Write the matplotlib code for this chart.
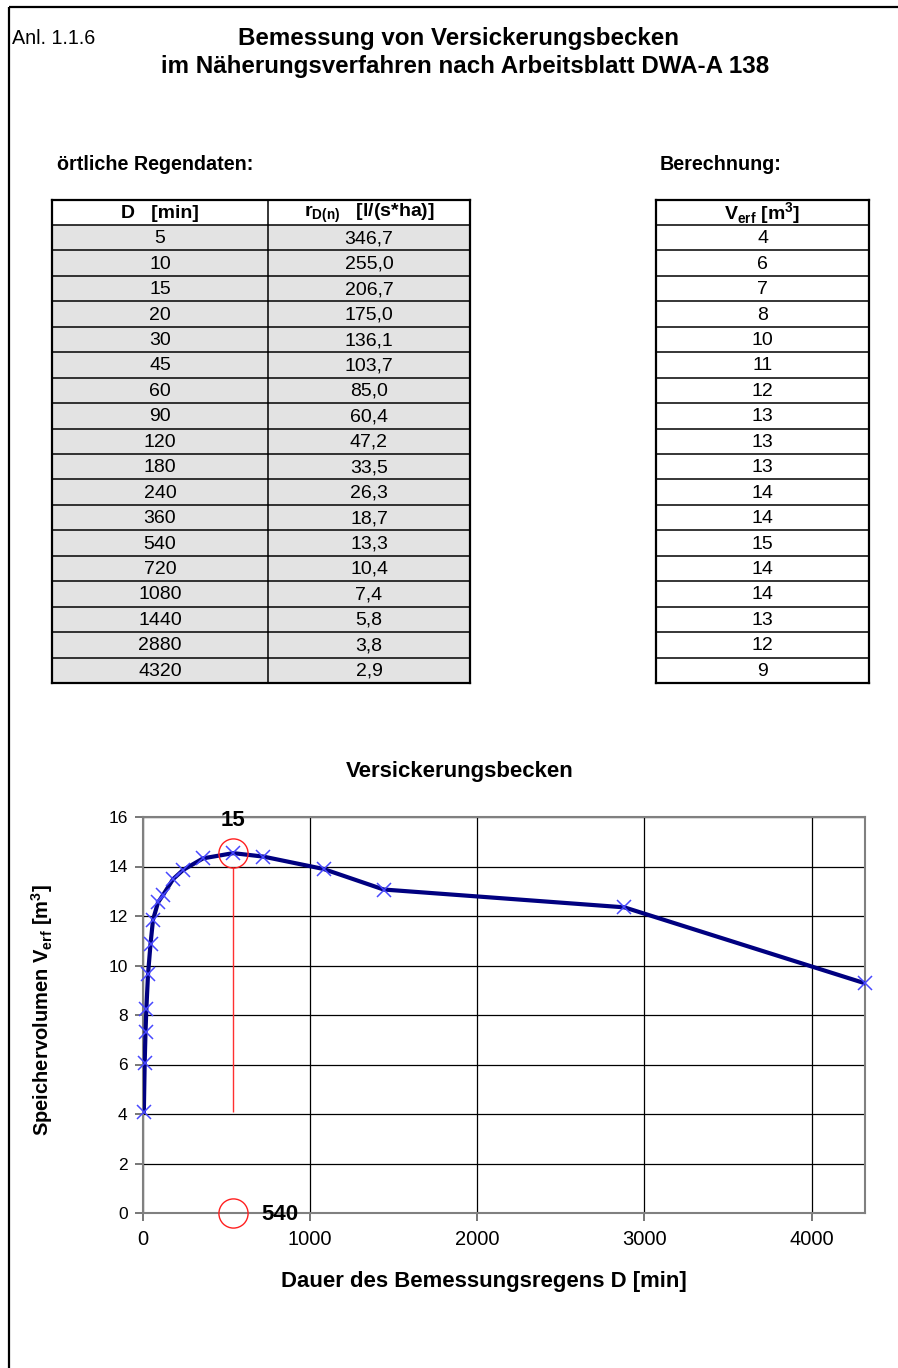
import matplotlib
matplotlib.use('Agg')
import matplotlib.pyplot as plt
from matplotlib.patches import Rectangle

plt.rcParams['font.family'] = ['Liberation Sans', 'DejaVu Sans']

# Regendaten (Tabelle links)
dauer = [5, 10, 15, 20, 30, 45, 60, 90, 120, 180, 240, 360, 540, 720, 1080, 1440, 2880, 4320]
regenspende = ['346,7', '255,0', '206,7', '175,0', '136,1', '103,7', '85,0', '60,4', '47,2',
               '33,5', '26,3', '18,7', '13,3', '10,4', '7,4', '5,8', '3,8', '2,9']
# Berechnung (Tabelle rechts, gerundet)
v_tabelle = [4, 6, 7, 8, 10, 11, 12, 13, 13, 13, 14, 14, 15, 14, 14, 13, 12, 9]
# Speichervolumen im Diagramm
v_erf = [4.09, 6.05, 7.31, 8.23, 9.64, 10.87, 11.85, 12.55, 12.85, 13.49, 13.86, 14.33,
         14.54, 14.40, 13.90, 13.07, 12.35, 9.28]

W, H = 898, 1368
fig = plt.figure(figsize=(W / 100, H / 100), dpi=100)

bg = fig.add_axes([0, 0, 1, 1])
bg.set_xlim(0, W)
bg.set_ylim(H, 0)
bg.axis('off')

# Rahmen
bg.plot([9, 9], [7, H], color='black', lw=1.6, solid_capstyle='butt')
bg.plot([9, W], [7, 7], color='black', lw=1.6, solid_capstyle='butt')

bg.text(12, 38, 'Anl. 1.1.6', fontsize=14.2, va='center', ha='left')
bg.text(458, 39, 'Bemessung von Versickerungsbecken', fontsize=17.4, fontweight='bold',
        ha='center', va='center')
bg.text(465, 67, 'im Näherungsverfahren nach Arbeitsblatt DWA-A 138', fontsize=17.4,
        fontweight='bold', ha='center', va='center')

bg.text(57, 165, 'örtliche Regendaten:', fontsize=14.2, fontweight='bold', va='center')
bg.text(660, 165, 'Berechnung:', fontsize=14.2, fontweight='bold', va='center')

# Tabellen
top, head_h = 200, 25
row_h = (683 - 225) / len(dauer)


def draw_table(x0, x1, splits, headers, columns, fill):
    y_end = top + head_h + row_h * len(columns[0])
    for i in range(len(columns[0])):
        y = top + head_h + i * row_h
        bg.add_patch(Rectangle((x0, y), x1 - x0, row_h, facecolor=fill, edgecolor='none'))
    # horizontale Linien
    for i in range(len(columns[0]) + 1):
        y = top + head_h + i * row_h
        bg.plot([x0, x1], [y, y], color='black', lw=1.1)
    bg.plot([x0, x1], [top, top], color='black', lw=1.6)
    bg.plot([x0, x1], [y_end, y_end], color='black', lw=1.6)
    for x in [x0, x1]:
        bg.plot([x, x], [top, y_end], color='black', lw=1.6)
    for x in splits:
        bg.plot([x, x], [top, y_end], color='black', lw=1.1)
    edges = [x0] + splits + [x1]
    for j, (hd, col) in enumerate(zip(headers, columns)):
        xc = (edges[j] + edges[j + 1]) / 2
        bg.text(xc, top + head_h / 2 + 1, hd, fontsize=14, fontweight='bold', ha='center', va='center')
        for i, val in enumerate(col):
            bg.text(xc, top + head_h + (i + 0.5) * row_h + 1, str(val), fontsize=14,
                    ha='center', va='center')


draw_table(52, 470, [268], [r'D   [min]', r'r$_{\mathregular{D(n)}}$   [l/(s*ha)]'],
           [dauer, regenspende], '#e3e3e3')
draw_table(656, 869, [], [r'V$_{\mathregular{erf}}$ [m$^{\mathregular{3}}$]'], [v_tabelle], 'white')

# Diagramm
ax = fig.add_axes([143 / W, 1 - 1213 / H, (865 - 143) / W, (1213 - 817) / H])
ax.plot(dauer, v_erf, color='#000080', lw=3.0, zorder=3, solid_joinstyle='round')
ax.plot(dauer, v_erf, ls='none', marker='x', ms=10, mew=1.1, color='#4848ff', zorder=4,
        clip_on=False)

i_max = v_erf.index(max(v_erf))
d_max = dauer[i_max]
v_max = v_erf[i_max]
ax.plot([d_max], [v_max], ls='none', marker='o', ms=21, mfc='none', mec='#ff2020', mew=1, zorder=5,
        clip_on=False)
ax.plot([d_max], [0], ls='none', marker='o', ms=21, mfc='none', mec='#ff2020', mew=1, zorder=5,
        clip_on=False)
ax.vlines(d_max, v_erf[0], v_max - 0.55, color='#ff3030', lw=1.0, zorder=2)
ax.text(d_max, 15.85, str(v_tabelle[i_max]), fontsize=16, fontweight='bold', ha='center',
        va='center', clip_on=False, zorder=6)
ax.annotate(str(d_max), (d_max, 0), xytext=(20, -1), textcoords='offset points', fontsize=16,
            fontweight='bold', ha='left', va='center', annotation_clip=False, zorder=6)

ax.set_xlim(0, 4320)
ax.set_ylim(0, 16)
ax.set_xticks([0, 1000, 2000, 3000, 4000])
ax.set_yticks(range(0, 17, 2))
ax.grid(True, color='black', lw=0.9)
ax.set_axisbelow(True)
for s in ax.spines.values():
    s.set_color('#808080')
    s.set_linewidth(1.5)
ax.tick_params(axis='x', labelsize=14.5, length=6, width=1.2, color='#606060', pad=6)
ax.tick_params(axis='y', labelsize=12.5, length=6, width=1.2, color='#606060', pad=5)

bg.text(460, 772, 'Versickerungsbecken', fontsize=16, fontweight='bold', ha='center', va='center')
bg.text(484, 1281, 'Dauer des Bemessungsregens D [min]', fontsize=15.9, fontweight='bold',
        ha='center', va='center')
bg.text(42, 1010, r'Speichervolumen V$_{\mathregular{erf}}$ [m$^{\mathregular{3}}$]', fontsize=14.5,
        fontweight='bold', ha='center', va='center', rotation=90)

fig.savefig('out.png', dpi=100)
